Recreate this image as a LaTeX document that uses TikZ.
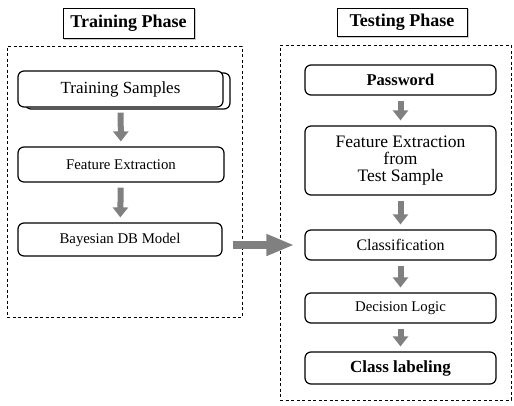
\documentclass[tikz,border=0pt]{standalone}
\usepackage{fontspec}
\setmainfont{Liberation Serif}
\usetikzlibrary{arrows.meta}
\begin{document}
\begin{tikzpicture}[x=1pt,y=-1pt,
 box/.style={draw=black, line width=1.2pt, rounded corners=6pt, fill=white, inner sep=0pt, align=center},
 ttl/.style={draw=black, line width=0.8pt, fill=white, inner sep=0pt,
   font=\bfseries\fontsize{18}{20}\selectfont},
 ttlshadow/.style={draw=gray!40, line width=1pt, inner sep=0pt},
 phase/.style={draw=black, line width=0.9pt, dash pattern=on 3pt off 2.5pt, inner sep=0pt},
 flow/.style={draw=black!50, line width=6pt, -{Triangle[width=15pt,length=10pt]}, shorten <=5pt, shorten >=5pt}
]
\useasboundingbox[fill=white] (0,0) rectangle (514,405);

% phase frames
\node[phase, minimum width=235pt, minimum height=271pt] (lframe) at (124.5,181.5) {};
\node[phase, minimum width=231pt, minimum height=355pt] (rframe) at (395.5,222.5) {};

% titles
\node[ttlshadow, minimum width=131pt, minimum height=30pt] (ttrainsh) at (130,24.5) {};
\node[ttl, minimum width=131pt, minimum height=30pt] (ttrain) at (128.5,23) {Training Phase};
\node[ttlshadow, minimum width=130pt, minimum height=28pt] (ttestsh) at (403.5,23.5) {};
\node[ttl, minimum width=130pt, minimum height=28pt] (ttest) at (402,22) {Testing Phase};

% training column
\node[box, minimum width=205pt, minimum height=36pt] (tsback) at (127.5,91) {};
\node[box, minimum width=205pt, minimum height=36pt,
  font=\fontsize{17}{19}\selectfont] (ts) at (120.5,89) {Training Samples};
\node[box, minimum width=206pt, minimum height=35pt,
  font=\fontsize{14.8}{17}\selectfont] (fe1) at (121,164.5) {Feature Extraction};
\node[box, minimum width=204pt, minimum height=33pt,
  font=\fontsize{14.8}{17}\selectfont] (bay) at (120,239.5) {Bayesian DB Model};

% testing column
\node[box, minimum width=191pt, minimum height=30pt,
  font=\bfseries\fontsize{16.5}{18}\selectfont] (pw) at (400.5,80) {Password};
\node[box, minimum width=191pt, minimum height=69pt,
  font=\fontsize{17.5}{17}\selectfont] (fe2) at (400.5,160.5) {Feature Extraction\\from\\Test Sample};
\node[box, minimum width=191pt, minimum height=30pt,
  font=\fontsize{16}{18}\selectfont] (cls) at (400.5,245) {Classification};
\node[box, minimum width=191pt, minimum height=30pt,
  font=\fontsize{14.8}{17}\selectfont] (dl) at (400.5,308) {Decision Logic};
\node[box, minimum width=191pt, minimum height=32pt,
  font=\bfseries\fontsize{17}{19}\selectfont] (cl) at (400.5,368) {Class labeling};

% arrows
\draw[flow] (ts) -- (fe1);
\draw[flow] (fe1) -- (bay);
\draw[flow] (pw) -- (fe2);
\draw[flow] (fe2) -- (cls);
\draw[flow] (cls) -- (dl);
\draw[flow] (dl) -- (cl);
\draw[flow, line width=8pt, -{Triangle[width=20pt,length=28pt]}, shorten <=10pt, shorten >=10pt]
  (bay.east |- cls.west) -- (cls.west);
\end{tikzpicture}
\end{document}
